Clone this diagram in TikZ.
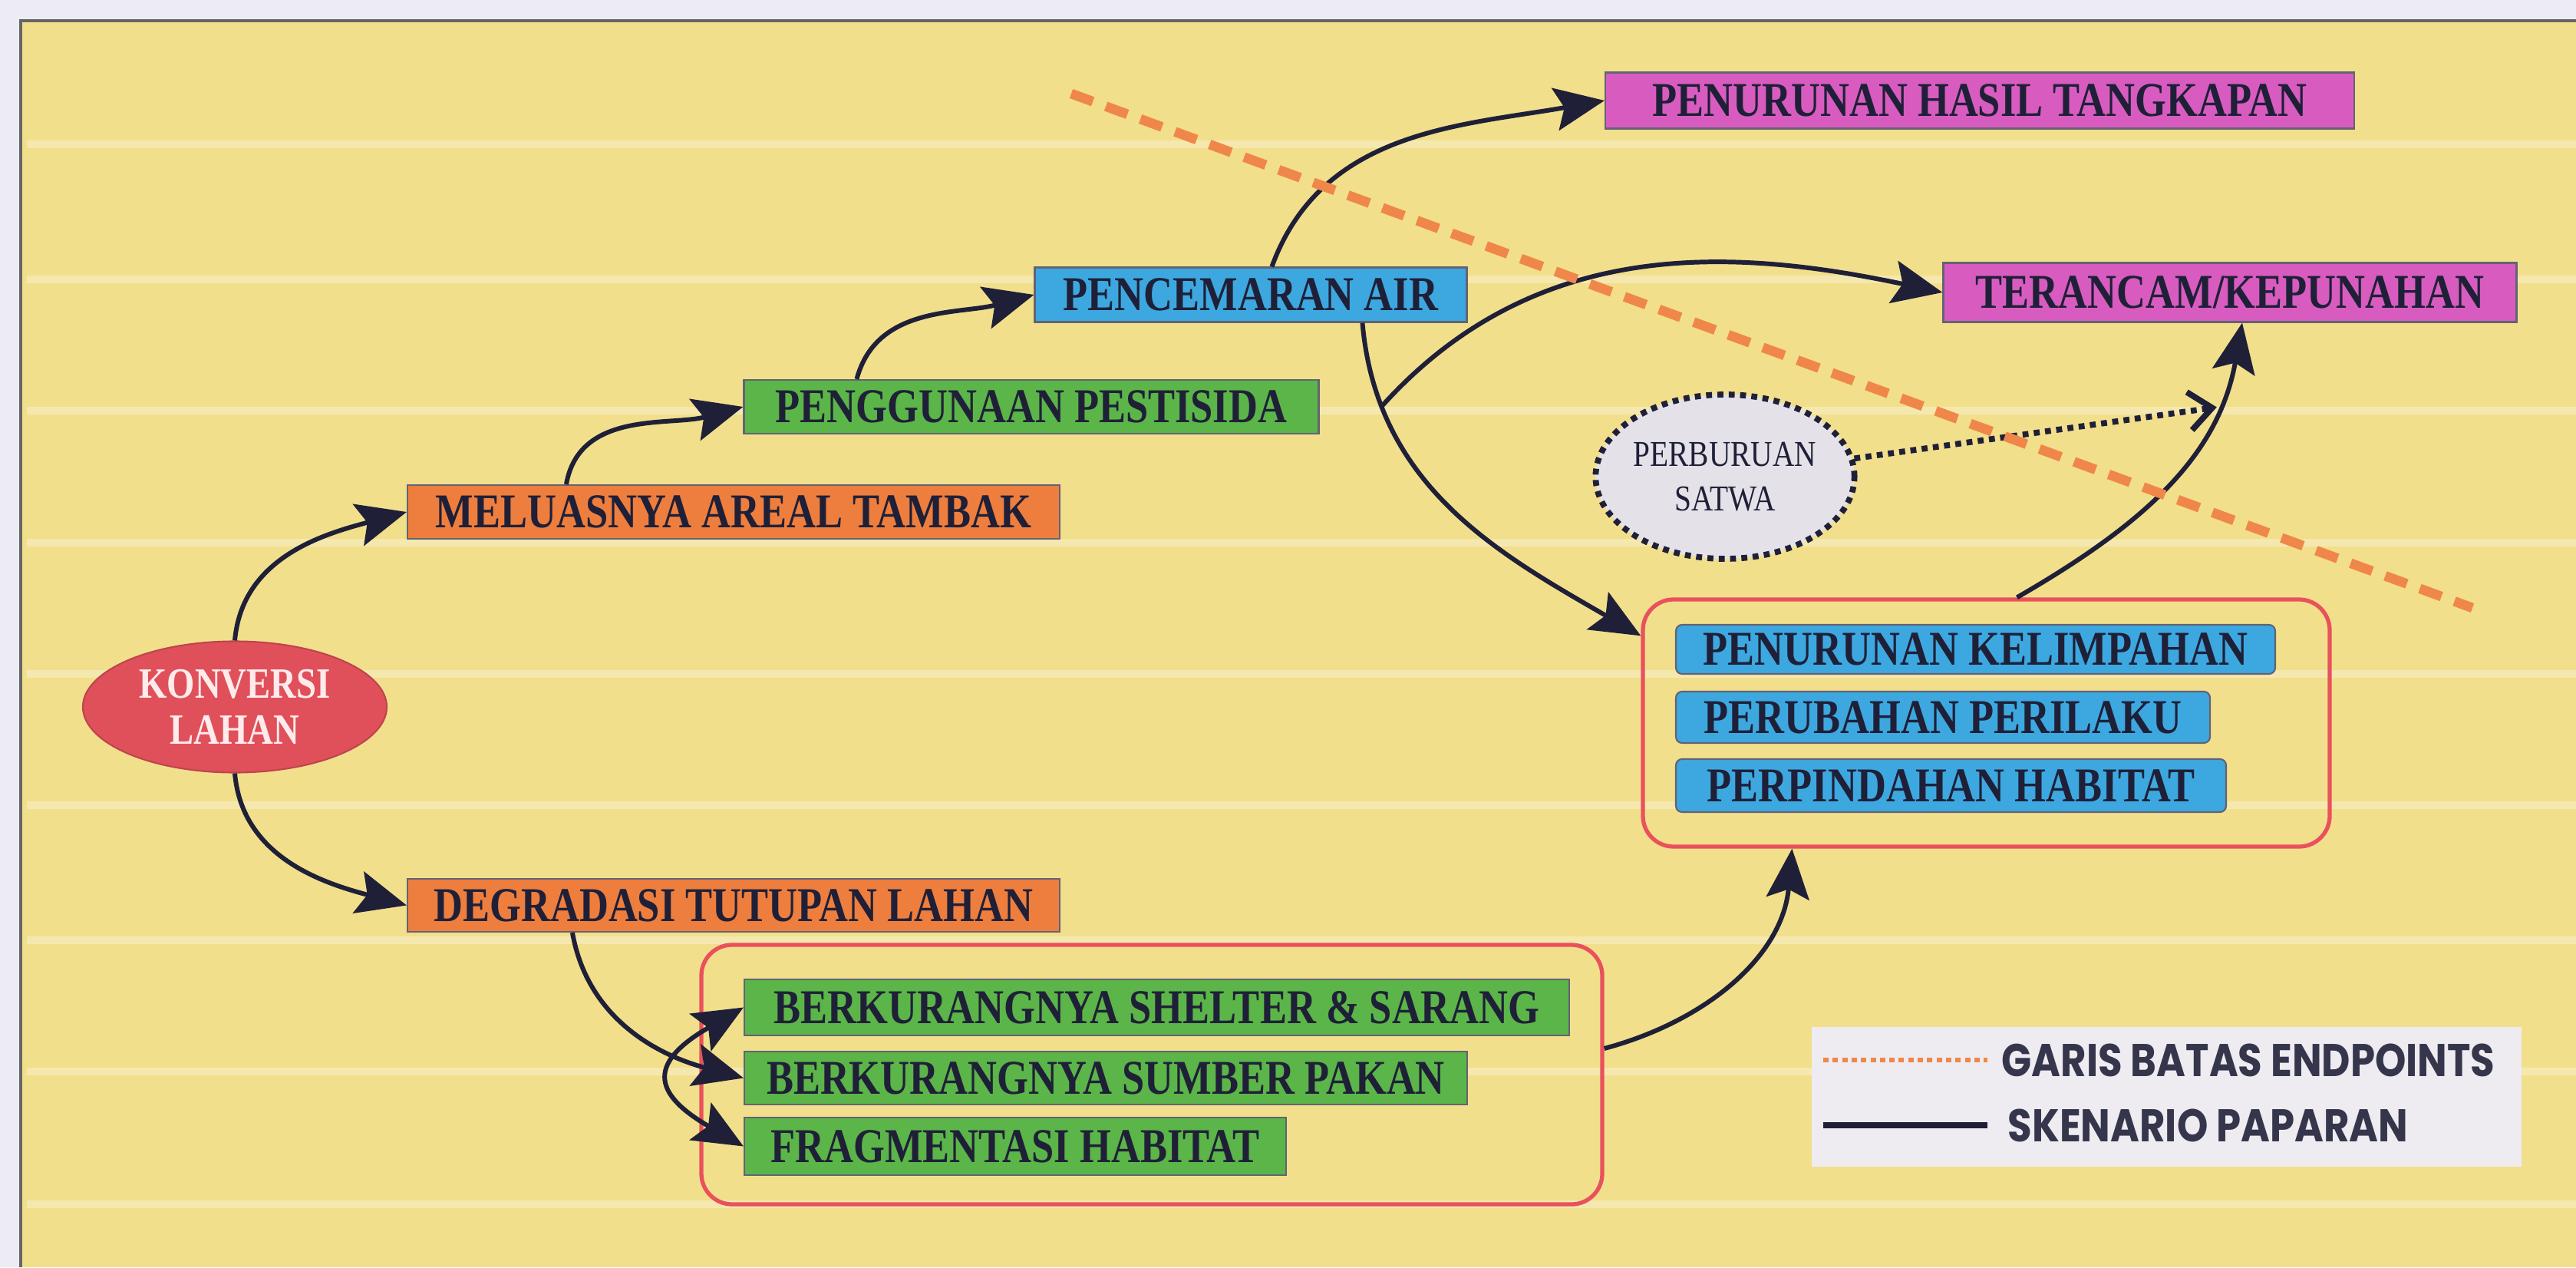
\documentclass[tikz,border=0pt]{standalone}
\usepackage{fontspec}
\usetikzlibrary{arrows.meta,shapes.geometric}

\newfontfamily\kotakfont{Liberation Serif}[FakeStretch=0.83]
\newfontfamily\legendfont{Poppins}[FakeStretch=0.86]

\definecolor{latar}{HTML}{F2DF8C}
\definecolor{tepi}{HTML}{EDECF4}
\definecolor{oranye}{HTML}{EE7E3E}
\definecolor{hijau}{HTML}{5BB548}
\definecolor{biru}{HTML}{3DA8E0}
\definecolor{ungu}{HTML}{D85CC0}
\definecolor{merahbulat}{HTML}{E0505B}
\definecolor{merahgaris}{HTML}{E9515C}
\definecolor{abu}{HTML}{E4E2E8}
\definecolor{tinta}{HTML}{1F2038}
\definecolor{garisbatas}{HTML}{F0874A}
\definecolor{legenda}{HTML}{EEEBF1}

\tikzset{
  kotak/.style={rectangle, draw=tinta!70, line width=0.6pt, minimum height=0.7cm, inner sep=0pt, text=tinta, font=\kotakfont\bfseries\fontsize{18}{20}\selectfont},
  panah/.style={draw=tinta, line width=1.7pt, -{Stealth[length=6.5mm,width=5.6mm,inset=1.2mm]}},
  bingkai/.style={draw=merahgaris, line width=1.5pt, rounded corners=0.4cm},
}

\begin{document}
\begin{tikzpicture}
\useasboundingbox (0,0) rectangle (33.57,-16.51);
\fill[tepi] (0,0) rectangle (33.57,-16.51);
\fill[latar] (0.27,-0.27) rectangle (33.57,-16.51);
\draw[black!60, line width=1.2pt] (0.27,-16.51) -- (0.27,-0.27) -- (33.57,-0.27);
\foreach \y in {1.88,3.64,5.35,7.07,8.78,10.49,12.25,13.96,15.69}
  \draw[white, opacity=0.3, line width=3pt] (0.35,-\y) -- (33.57,-\y);

% sumber dampak
\node[ellipse, fill=merahbulat, draw=merahbulat!85!black, line width=0.6pt, minimum width=3.96cm, minimum height=1.71cm, inner sep=0pt, align=center, text=white!92!red, font=\kotakfont\bfseries\fontsize{16}{17}\selectfont] (konversi) at (3.06,-9.21) {KONVERSI\\LAHAN};

% jalur atas
\node[kotak, fill=oranye, minimum width=8.5cm] (tambak) at (9.56,-6.67) {MELUASNYA AREAL TAMBAK};
\node[kotak, fill=hijau, minimum width=7.49cm] (pestisida) at (13.44,-5.30) {PENGGUNAAN PESTISIDA};
\node[kotak, fill=biru, minimum width=5.63cm, minimum height=0.71cm] (air) at (16.30,-3.84) {PENCEMARAN AIR};
\node[kotak, fill=ungu, minimum width=9.76cm, minimum height=0.73cm] (hasil) at (25.80,-1.31) {PENURUNAN HASIL TANGKAPAN};
\node[kotak, fill=ungu, minimum width=7.47cm, minimum height=0.77cm] (punah) at (29.06,-3.81) {TERANCAM/KEPUNAHAN};
\node[ellipse, fill=abu, draw=tinta, dotted, line width=2.2pt, minimum width=3.1cm, minimum height=2.14cm, inner sep=0pt, align=center, text=tinta, font=\kotakfont\fontsize{13.5}{16.5}\selectfont] (perburuan) at (22.48,-6.21) {PERBURUAN\\SATWA};

\node[bingkai, minimum width=8.95cm, minimum height=3.22cm] (dampakA) at (25.885,-9.42) {};
\node[kotak, fill=biru, rounded corners=0.08cm, minimum width=7.81cm, minimum height=0.64cm] (kelimpahan) at (25.745,-8.46) {PENURUNAN KELIMPAHAN};
\node[kotak, fill=biru, rounded corners=0.08cm, minimum width=6.96cm, minimum height=0.67cm] (perilaku) at (25.32,-9.345) {PERUBAHAN PERILAKU};
\node[kotak, fill=biru, rounded corners=0.08cm, minimum width=7.17cm, minimum height=0.69cm] (perpindahan) at (25.425,-10.235) {PERPINDAHAN HABITAT};

% jalur bawah
\node[kotak, fill=oranye, minimum width=8.5cm, minimum height=0.69cm] (degradasi) at (9.56,-11.795) {DEGRADASI TUTUPAN LAHAN};
\node[bingkai, minimum width=11.74cm, minimum height=3.38cm] (dampakB) at (15.01,-14.00) {};
\node[kotak, fill=hijau, minimum width=10.75cm, minimum height=0.73cm] (shelter) at (15.075,-13.125) {BERKURANGNYA SHELTER \& SARANG};
\node[kotak, fill=hijau, minimum width=9.42cm, minimum height=0.69cm] (pakan) at (14.41,-14.045) {BERKURANGNYA SUMBER PAKAN};
\node[kotak, fill=hijau, minimum width=7.06cm, minimum height=0.75cm] (fragmentasi) at (13.23,-14.935) {FRAGMENTASI HABITAT};

% skenario paparan
\draw[panah] (konversi.north) to[out=85,in=195] (tambak.west);
\draw[panah] ([xshift=2.08cm]tambak.north west) to[out=80,in=195] (pestisida.west);
\draw[panah] ([xshift=1.48cm]pestisida.north west) to[out=75,in=195] (air.west);
\draw[panah] ([xshift=3.1cm]air.north west) to[out=70,in=190] (hasil.west);
\draw[panah] ([xshift=4.28cm]air.south west) to[out=-85,in=150] coordinate[pos=0.19] (cabang) ([yshift=-0.5cm]dampakA.north west);
\draw[panah] (cabang) to[out=48,in=168] (punah.west);
\draw[panah] ([xshift=0.4cm]dampakA.north) to[out=30,in=-100] coordinate[pos=0.77] (temu) ([xshift=0.16cm]punah.south);
\draw[tinta, dotted, line width=2.2pt, -{Straight Barb[length=3mm,width=5mm]}] (perburuan.8) -- (temu);
\draw[panah] (konversi.south) to[out=-85,in=165] (degradasi.west);
\draw[panah] ([xshift=2.16cm]degradasi.south west) to[out=-80,in=165] (pakan.west);
\draw[panah, {Stealth[length=6.5mm,width=5.6mm,inset=1.2mm]}-{Stealth[length=6.5mm,width=5.6mm,inset=1.2mm]}] (shelter.west) to[out=210,in=150,looseness=2] (fragmentasi.west);
\draw[panah] ([yshift=0.34cm]dampakB.east) to[out=15,in=-95] ([xshift=1.97cm]dampakA.south west);

% garis batas endpoints
\draw[garisbatas, line width=3.6pt, dash pattern=on 0.3cm off 0.18cm] (13.96,-1.22) -- (32.22,-7.92);

% legenda
\fill[legenda] (23.61,-13.38) rectangle (32.86,-15.20);
\node[anchor=west, inner sep=0pt, text=tinta!90, font=\legendfont\bfseries\fontsize{17}{17}\selectfont] (legenda1) at (26.08,-13.81) {GARIS BATAS ENDPOINTS};
\node[anchor=west, inner sep=0pt, text=tinta!90, font=\legendfont\bfseries\fontsize{17}{17}\selectfont] (legenda2) at (26.16,-14.66) {SKENARIO PAPARAN};
\draw[garisbatas, line width=1.5pt, dash pattern=on 2pt off 1.5pt] ([xshift=-2.32cm]legenda1.west) -- ([xshift=-0.18cm]legenda1.west);
\draw[tinta, line width=2.2pt] ([xshift=-2.4cm]legenda2.west) -- ([xshift=-0.26cm]legenda2.west);
\end{tikzpicture}
\end{document}
